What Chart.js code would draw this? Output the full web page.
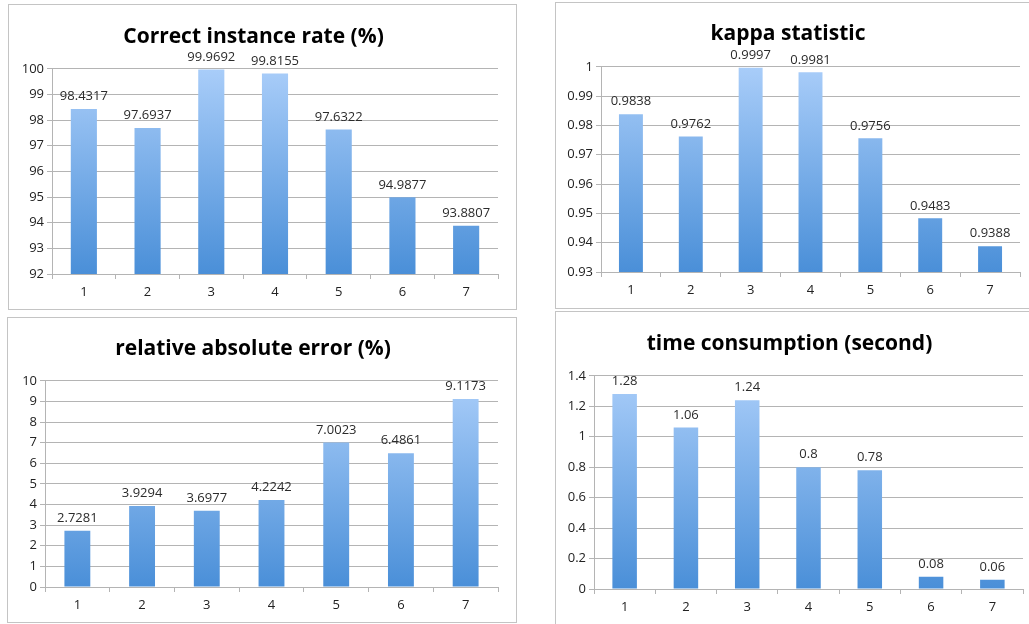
<!DOCTYPE html>
<html>
<head>
<meta charset="utf-8">
<script src="https://cdn.jsdelivr.net/npm/chart.js@4/dist/chart.umd.min.js"></script>
<style>
  html, body { margin: 0; padding: 0; background: #fff; overflow: hidden; }
  body { width: 1029px; height: 624px; position: relative; }
  .panel { position: absolute; box-sizing: border-box; border: 1px solid #c4c4c4; background: #fff; }
  .panel > div { position: absolute; left: 0; top: 0; }
</style>
</head>
<body>
<div class="panel" id="p1" style="left:8px;top:4px;width:509px;height:306px"><div style="width:507px;height:304px"><canvas id="c1"></canvas></div></div>
<div class="panel" id="p2" style="left:555px;top:2px;width:480px;height:307px"><div style="width:478px;height:305px"><canvas id="c2"></canvas></div></div>
<div class="panel" id="p3" style="left:7px;top:317px;width:510px;height:306px"><div style="width:508px;height:304px"><canvas id="c3"></canvas></div></div>
<div class="panel" id="p4" style="left:555px;top:311px;width:480px;height:320px"><div style="width:478px;height:318px"><canvas id="c4"></canvas></div></div>
<script>
// Method indices shared by all four panels
const categories = ['1', '2', '3', '4', '5', '6', '7'];

// Correct instance rate (%)
const correctRate = [98.4317, 97.6937, 99.9692, 99.8155, 97.6322, 94.9877, 93.8807];
const correctRateLabels = ['98.4317', '97.6937', '99.9692', '99.8155', '97.6322', '94.9877', '93.8807'];

// Kappa statistic
const kappa = [0.9838, 0.9762, 0.9997, 0.9981, 0.9756, 0.9483, 0.9388];
const kappaLabels = ['0.9838', '0.9762', '0.9997', '0.9981', '0.9756', '0.9483', '0.9388'];

// Relative absolute error (%)
const relError = [2.7281, 3.9294, 3.6977, 4.2242, 7.0023, 6.4861, 9.1173];
const relErrorLabels = ['2.7281', '3.9294', '3.6977', '4.2242', '7.0023', '6.4861', '9.1173'];

// Time consumption (second)
const timeCost = [1.28, 1.06, 1.24, 0.8, 0.78, 0.08, 0.06];
const timeCostLabels = ['1.28', '1.06', '1.24', '0.8', '0.78', '0.08', '0.06'];

// Y-axis tick labels
const correctTicks = ['92', '93', '94', '95', '96', '97', '98', '99', '100'];
const kappaTicks = ['0.93', '0.94', '0.95', '0.96', '0.97', '0.98', '0.99', '1'];
const errorTicks = ['0', '1', '2', '3', '4', '5', '6', '7', '8', '9', '10'];
const timeTicks = ['0', '0.2', '0.4', '0.6', '0.8', '1', '1.2', '1.4'];

const FONT = "'Open Sans', 'Noto Sans', sans-serif";
const GRID = '#b4b4b4';

// Writes each bar's value label just above it
const valueLabels = {
  id: 'valueLabels',
  afterDatasetsDraw(chart, args, opts) {
    const ctx = chart.ctx;
    const meta = chart.getDatasetMeta(0);
    ctx.save();
    ctx.font = '13px ' + FONT;
    ctx.fillStyle = '#2b2b2b';
    ctx.textAlign = 'center';
    ctx.textBaseline = 'bottom';
    meta.data.forEach((bar, i) => {
      ctx.fillText(opts.texts[i], bar.x, bar.y - 6);
    });
    ctx.restore();
  }
};

function barGradient(context) {
  const chart = context.chart;
  const area = chart.chartArea;
  if (!area) return '#7fb2ee';
  const el = context.element;
  const top = el && el.y !== undefined ? el.y : area.top;
  const bottom = el && el.base !== undefined ? el.base : area.bottom;
  const g = chart.ctx.createLinearGradient(0, top, 0, bottom);
  g.addColorStop(0, '#a9cdf9');
  g.addColorStop(1, '#4a8fd8');
  return g;
}

function makeChart(id, cfg) {
  const tickList = cfg.ticks;
  return new Chart(document.getElementById(id), {
    type: 'bar',
    data: {
      labels: categories,
      datasets: [{
        data: cfg.values,
        backgroundColor: barGradient,
        borderWidth: 0,
        barPercentage: cfg.barPct,
        categoryPercentage: 1
      }]
    },
    options: {
      responsive: true,
      maintainAspectRatio: false,
      animation: false,
      events: [],
      layout: { padding: { left: 0, right: cfg.padRight, top: 0, bottom: 0 } },
      plugins: {
        legend: { display: false },
        tooltip: { enabled: false },
        title: {
          display: true,
          text: cfg.title,
          color: '#000',
          font: { family: FONT, size: 21, weight: 'bold', lineHeight: 1.2 },
          padding: { top: cfg.titleTop, bottom: cfg.titleBottom }
        },
        valueLabels: { texts: cfg.labels }
      },
      scales: {
        x: {
          grid: { display: true, drawOnChartArea: false, drawTicks: true, tickLength: 5, color: GRID, offset: true },
          border: { display: true, color: GRID },
          ticks: { color: '#222', font: { family: FONT, size: 13 }, padding: 5 },
          afterFit(scale) { scale.height = cfg.xHeight; }
        },
        y: {
          min: cfg.min,
          max: cfg.max,
          grid: { color: GRID, tickLength: 5, drawTicks: true },
          border: { display: true, color: GRID },
          ticks: {
            stepSize: cfg.step,
            color: '#222',
            font: { family: FONT, size: 13 },
            padding: 3,
            callback: (v, i) => tickList[i]
          },
          afterFit(scale) { scale.width = cfg.yWidth; }
        }
      }
    },
    plugins: [valueLabels]
  });
}

makeChart('c1', {
  title: 'Correct instance rate (%)', values: correctRate, labels: correctRateLabels, ticks: correctTicks,
  min: 92, max: 100, step: 1, barPct: 0.41,
  yWidth: 43, padRight: 18, xHeight: 35, titleTop: 19, titleBottom: 19.6
});
makeChart('c2', {
  title: 'kappa statistic', values: kappa, labels: kappaLabels, ticks: kappaTicks,
  min: 0.93, max: 1, step: 0.01, barPct: 0.4,
  yWidth: 45, padRight: 14, xHeight: 36, titleTop: 18, titleBottom: 20.6
});
makeChart('c3', {
  title: 'relative absolute error (%)', values: relError, labels: relErrorLabels, ticks: errorTicks,
  min: 0, max: 10, step: 1, barPct: 0.4,
  yWidth: 37, padRight: 18, xHeight: 35, titleTop: 18, titleBottom: 19.6
});
makeChart('c4', {
  title: 'time consumption (second)', values: timeCost, labels: timeCostLabels, ticks: timeTicks,
  min: 0, max: 1.4, step: 0.2, barPct: 0.4,
  yWidth: 38, padRight: 11, xHeight: 41, titleTop: 19, titleBottom: 19.6
});
</script>
</body>
</html>
